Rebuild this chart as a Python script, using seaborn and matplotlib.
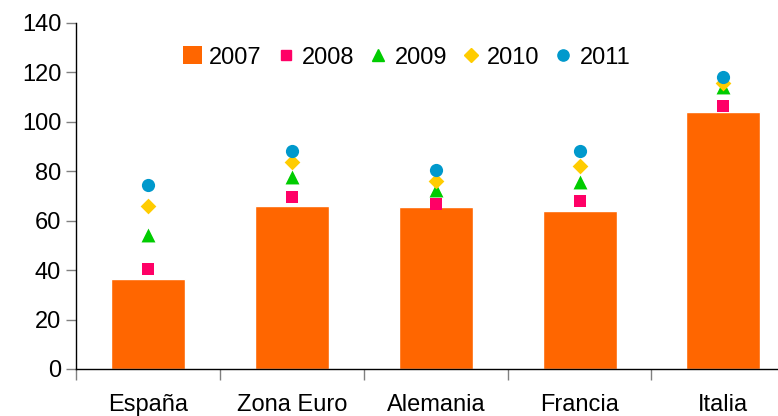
import numpy as np
import pandas as pd
import seaborn as sns
import matplotlib.pyplot as plt
from matplotlib.lines import Line2D
from matplotlib.patches import Patch

#Values
paises = ['España', 'Zona Euro', 'Alemania', 'Francia', 'Italia']
v2007 = [36.3, 66.1, 65.4, 63.9, 103.9]
v2008 = [40.3, 69.7, 66.6, 68.1, 106.3]
v2009 = [54.2, 77.8, 72.4, 75.5, 114.2]
v2010 = [66.0, 83.6, 76.0, 82.3, 115.8]
v2011 = [74.5, 88.3, 80.3, 88.3, 118.3]

df = pd.DataFrame({'pais': paises, '2007': v2007, '2008': v2008,
                   '2009': v2009, '2010': v2010, '2011': v2011})

sns.set_style('white')
plt.rcParams['font.family'] = ['Liberation Sans', 'DejaVu Sans']
plt.rcParams['text.color'] = 'black'
plt.rcParams['xtick.labelcolor'] = 'black'
plt.rcParams['ytick.labelcolor'] = 'black'

fig = plt.figure(figsize=(7.78, 4.16), dpi=100)
ax = fig.add_axes([0.0983, 0.113, 0.9237, 0.832])

#Bars for 2007
sns.barplot(data=df, x='pais', y='2007', color='#FF6600', saturation=1,
            width=0.515, ax=ax, order=paises)

#Markers for the other years
estilos = [('2008', 's', '#FF0066', 8.5), ('2009', '^', '#00CC00', 10),
           ('2010', 'D', '#FFCC00', 8), ('2011', 'o', '#0099CC', 9.5)]
for anio, m, c, s in estilos:
    sns.stripplot(data=df, x='pais', y=anio, jitter=False, marker=m, color=c,
                  size=s, linewidth=0, ax=ax, order=paises, zorder=3)

ax.set_xlim(-0.5, 4.5)
ax.set_ylim(0, 140)
ax.set_yticks(np.arange(0, 141, 20))
ax.set_xlabel('')
ax.set_ylabel('')

for lado in ['top', 'right']:
    ax.spines[lado].set_visible(False)
for lado in ['left', 'bottom']:
    ax.spines[lado].set_color('#000000')
    ax.spines[lado].set_linewidth(1)

ax.tick_params(axis='y', length=7, width=1, color='#808080', labelsize=17, pad=4, left=True)
#x ticks sit between the categories
ax.set_xticks(np.arange(0, 5))
ax.set_xticklabels(paises)
ax.set_xticks(np.arange(-0.5, 4.6, 1), minor=True)
ax.tick_params(axis='x', which='major', length=0, labelsize=17, pad=18)
ax.tick_params(axis='x', which='minor', length=8, width=1, color='#808080', bottom=True)

handles = [Patch(facecolor='#FF6600', edgecolor='none')]
for anio, m, c, s in estilos:
    handles.append(Line2D([], [], marker=m, color=c, linestyle='none', markersize=s * 0.85))
ax.legend(handles, ['2007', '2008', '2009', '2010', '2011'], ncol=5, frameon=False,
          loc='center', bbox_to_anchor=(0.46, 0.9), fontsize=17,
          handlelength=0.8, handletextpad=0.3, columnspacing=0.6, handleheight=0.8)

fig.savefig('out.png', dpi=100)
